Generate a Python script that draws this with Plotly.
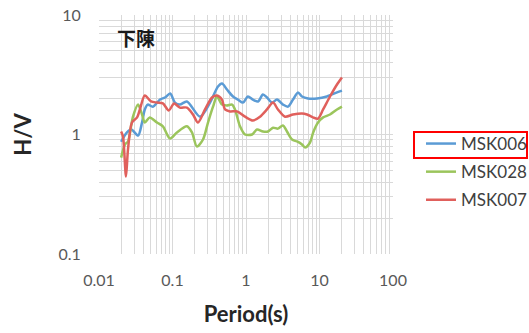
import plotly.graph_objects as go

# ---- data ----
series_names = ["MSK006", "MSK028", "MSK007"]

msk006_period = [0.020, 0.024, 0.0276, 0.034, 0.0385, 0.042, 0.046, 0.054, 0.0676, 0.079, 0.093,
                 0.108, 0.126, 0.157, 0.237, 0.324, 0.416, 0.471, 0.551, 0.665, 0.778, 0.911,
                 1.06, 1.24, 1.46, 1.70, 1.93, 2.26, 2.64, 3.18, 3.73, 4.36, 5.10, 5.78, 6.98,
                 9.25, 12.6, 17.3, 20.2]
msk006_hv = [0.87, 1.04, 1.10, 0.98, 1.26, 1.62, 1.78, 1.71, 1.96, 2.04, 2.20,
             1.85, 1.78, 1.89, 1.41, 1.85, 2.52, 2.67, 2.38, 2.08, 1.96, 1.85,
             2.08, 1.96, 1.89, 2.16, 2.04, 1.85, 1.96, 1.78, 1.71, 1.96, 2.25, 2.08, 2.00,
             2.00, 2.08, 2.25, 2.33]

msk028_period = [0.020, 0.0226, 0.0248, 0.029, 0.034, 0.0385, 0.042, 0.049, 0.0615, 0.074, 0.0925,
                 0.115, 0.157, 0.184, 0.215, 0.26, 0.304, 0.356, 0.403, 0.471, 0.551, 0.645,
                 0.708, 0.829, 0.969, 1.21, 1.41, 1.70, 1.99, 2.33, 2.72, 3.18, 3.61, 4.23,
                 4.94, 5.78, 6.35, 7.43, 8.2, 9.55, 11.2, 13.9, 17.3, 20.2]
msk028_hv = [0.64, 0.825, 0.874, 1.41, 1.78, 1.47, 1.26, 1.39, 1.26, 1.17, 0.926,
             1.04, 1.17, 1.04, 0.794, 0.908, 1.26, 1.71, 2.08, 1.78, 1.75, 1.78,
             1.62, 1.17, 1.00, 1.00, 1.10, 1.06, 1.06, 1.14, 1.12, 1.19, 1.06, 0.908,
             0.874, 0.825, 0.778, 0.857, 1.04, 1.26, 1.39, 1.47, 1.62, 1.71]

msk007_period = [0.020, 0.0212, 0.0233, 0.0248, 0.0281, 0.033, 0.036, 0.042, 0.051, 0.0615, 0.074,
                 0.089, 0.105, 0.126, 0.157, 0.19, 0.222, 0.277, 0.345, 0.403, 0.471, 0.518,
                 0.605, 0.755, 0.969, 1.24, 1.55, 1.93, 2.33, 2.72, 3.40, 4.36, 5.78, 6.76,
                 8.17, 9.55, 11.2, 13.9, 17.3, 20.2]
msk007_hv = [1.06, 0.96, 0.445, 0.75, 1.26, 1.39, 1.62, 2.12, 1.89, 1.85, 1.82,
             1.59, 1.82, 1.68, 1.68, 1.47, 1.26, 1.62, 2.04, 2.12, 1.96, 1.62,
             1.56, 1.56, 1.41, 1.31, 1.41, 1.62, 1.85, 1.62, 1.41, 1.47, 1.50, 1.47,
             1.39, 1.36, 1.62, 2.08, 2.62, 3.00]

x_tick_vals = [0.01, 0.1, 1, 10, 100]
x_tick_text = ["0.01", "0.1", "1", "10", "100"]
y_tick_vals = [0.1, 1, 10]
y_tick_text = ["0.1", "1", "10"]

colors = ["#5B9BD5", "#9BC55C", "#E0605C"]
site_label = "下陳"
x_title = "Period(s)"
y_title = "H/V"

# ---- figure ----
W, H = 529, 333
ML, MR, MT, MB = 99, 136, 15, 79
PW, PH = W - ML - MR, H - MT - MB

fig = go.Figure()
all_x = [msk006_period, msk028_period, msk007_period]
all_y = [msk006_hv, msk028_hv, msk007_hv]
for i, name in enumerate(series_names):
    fig.add_trace(go.Scatter(
        x=all_x[i], y=all_y[i], name=name, mode="lines",
        line=dict(color=colors[i], width=2.5, shape="spline", smoothing=0.8),
        legendgroup=name, showlegend=True,
    ))

grid_c = "#D9D9D9"
tick_font = dict(family="Lato, Arial, sans-serif", size=16, color="#595959")

fig.update_xaxes(
    type="log", range=[-2, 2], automargin=False,
    tickvals=x_tick_vals, ticktext=x_tick_text,
    showgrid=True, gridcolor=grid_c, gridwidth=1,
    minor=dict(dtick="D1", showgrid=True, gridcolor=grid_c, gridwidth=1, ticks=""),
    ticks="outside", ticklen=12, tickcolor="rgba(0,0,0,0)",
    tickfont=tick_font, zeroline=False, showline=False,
    title=dict(text=x_title, font=dict(family="Lato, Arial, sans-serif", size=22, color="#262626", weight="bold"), standoff=18),
)
fig.update_yaxes(
    type="log", range=[-1, 1], automargin=False,
    tickvals=y_tick_vals, ticktext=y_tick_text,
    showgrid=True, gridcolor=grid_c, gridwidth=1,
    minor=dict(dtick="D1", showgrid=True, gridcolor=grid_c, gridwidth=1, ticks=""),
    ticks="outside", ticklen=14, tickcolor="rgba(0,0,0,0)",
    tickfont=tick_font, zeroline=False, showline=False,
    title=dict(text=y_title, font=dict(family="Lato, Arial, sans-serif", size=22, color="#262626", weight="bold"), standoff=20),
)

def px_x(p):
    return (p - ML) / PW

def px_y(p):
    return (H - MB - p) / PH

fig.add_annotation(
    text=site_label, xref="paper", yref="paper",
    x=px_x(115), y=px_y(37), xanchor="left", yanchor="middle", showarrow=False,
    font=dict(family="Noto Sans CJK JP", size=19, color="#1a1a1a", weight="bold"),
)

fig.add_shape(
    type="rect", xref="paper", yref="paper",
    x0=px_x(414), x1=px_x(527), y0=px_y(158), y1=px_y(132),
    line=dict(color="#FF0000", width=2), fillcolor="rgba(0,0,0,0)",
)

fig.update_layout(
    width=W, height=H,
    margin=dict(l=ML, r=MR, t=MT, b=MB, autoexpand=False),
    paper_bgcolor="white", plot_bgcolor="white",
    showlegend=True,
    legend=dict(
        x=px_x(421), y=px_y(126), xanchor="left", yanchor="top",
        font=dict(family="Lato, Arial, sans-serif", size=17, color="#404040"),
        bgcolor="rgba(0,0,0,0)", borderwidth=0,
        traceorder="grouped", tracegroupgap=3,
    ),
)

fig.write_html("out.html", config={"displayModeBar": False},
               post_script="document.body.style.margin='0';")
